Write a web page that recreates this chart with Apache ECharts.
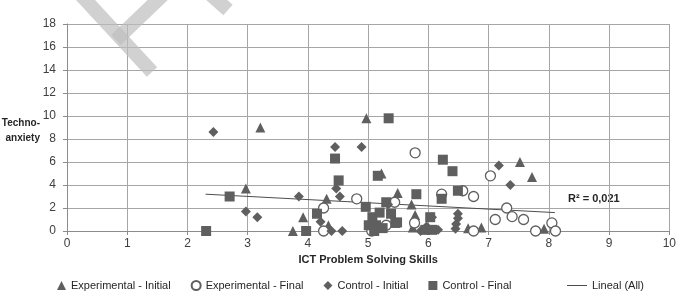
<!DOCTYPE html>
<html>
<head>
    <meta charset="utf-8">
    <title>Techno-anxiety</title>
    <script src="https://cdn.jsdelivr.net/npm/echarts@6/dist/echarts.min.js"></script>
    <style>
        html, body { margin: 0; padding: 0; background: #fff; }
        #main { width: 679px; height: 294px; }
    </style>
</head>
<body>
<div id="main"></div>
<script>
    // values
    var expInitX = [3.21, 4.97, 2.97, 3.75, 3.92, 4.31, 4.34, 5.22, 5.49, 5.72, 5.78, 5.74, 7.52, 7.72, 6.66, 6.88, 7.92, 5.77];
    var expInitY = [9.0, 9.8, 3.7, 0.0, 1.2, 2.8, 0.5, 5.0, 3.3, 2.3, 1.4, 0.3, 6.0, 4.7, 0.25, 0.3, 0.2, 0.8];

    var expFinalX = [5.78, 7.03, 4.81, 4.26, 4.26, 5.06, 5.30, 5.44, 5.77, 6.22, 6.57, 6.75, 6.75, 7.11, 7.30, 7.39, 7.58, 7.78, 8.05, 8.11];
    var expFinalY = [6.8, 4.8, 2.8, 2.0, 0.0, 0.0, 0.5, 2.5, 0.7, 3.2, 3.5, 3.0, 0.0, 1.0, 2.0, 1.25, 1.0, 0.0, 0.7, 0.0];

    var ctrlInitX = [2.43, 4.45, 4.89, 2.97, 3.16, 3.85, 4.47, 4.53, 4.21, 4.39, 4.57, 5.33, 7.17, 7.36, 6.49, 6.49, 6.46, 6.45, 6.06, 5.97, 6.16, 5.87];
    var ctrlInitY = [8.6, 7.3, 7.3, 1.7, 1.2, 3.0, 3.7, 3.0, 0.8, 0.0, 0.0, 2.3, 5.7, 4.0, 1.5, 1.1, 0.6, 0.2, 1.2, 0.4, 0.1, 0.0];

    var ctrlFinalX = [2.31, 2.70, 5.34, 4.45, 4.51, 5.16, 4.15, 3.97, 4.96, 5.07, 5.19, 5.38, 5.30, 5.45, 5.01, 5.13, 5.24, 5.80, 6.24, 6.40, 6.22, 6.49, 5.48, 5.95, 6.06, 6.03, 5.10];
    var ctrlFinalY = [0.0, 3.0, 9.8, 6.3, 4.4, 4.8, 1.5, 0.0, 2.1, 1.2, 1.6, 1.5, 2.5, 0.7, 0.5, 0.5, 0.25, 3.2, 6.2, 5.2, 2.8, 3.5, 0.75, 0.1, 0.1, 1.2, 0.0];

    // linear trend (all), end points
    var trendX = [2.3, 8.1];
    var trendY = [3.2, 1.6];

    var seriesNames = ['Experimental - Initial', 'Experimental - Final', 'Control - Initial', 'Control - Final', 'Lineal (All)'];
    var xTicks = [0, 10, 1];
    var yTicks = [0, 18, 2];

    function pairs(xs, ys) {
        var out = [];
        for (var i = 0; i < xs.length; i++) {
            out.push([xs[i], ys[i]]);
        }
        return out;
    }

    var grey = '#5f5f5f';
    var font = 'Liberation Sans Narrow, Liberation Sans, sans-serif';
    // thin line icon, with tiny corner dots so it keeps a 20x9 box
    var lineIcon = 'path://M0,0L0.01,0L0.01,0.01Z M0,4H20V5H0Z M19.99,9L20,9L20,8.99Z';

    var myChart = echarts.init(document.getElementById('main'));
    var option = {
        animation: false,
        textStyle: { fontFamily: font },
        grid: { left: 67, right: 1, top: 24, bottom: 63 },
        xAxis: {
            type: 'value',
            min: xTicks[0], max: xTicks[1], interval: xTicks[2],
            name: 'ICT Problem Solving Skills',
            nameLocation: 'middle',
            nameGap: 22,
            nameTextStyle: { fontWeight: 'bold', fontSize: 11, color: '#262626', fontFamily: font },
            axisLine: { show: true, lineStyle: { color: '#8c8c8c' } },
            axisTick: { show: true, length: 4, lineStyle: { color: '#8c8c8c' } },
            axisLabel: { fontSize: 12, color: '#404040', margin: 7, fontFamily: font },
            splitLine: { show: true, lineStyle: { color: '#a6a6a6', width: 1 } }
        },
        yAxis: {
            type: 'value',
            min: yTicks[0], max: yTicks[1], interval: yTicks[2],
            axisLine: { show: true, lineStyle: { color: '#8c8c8c' } },
            axisTick: { show: true, length: 4, lineStyle: { color: '#8c8c8c' } },
            axisLabel: { fontSize: 12, color: '#404040', margin: 11, fontFamily: font },
            splitLine: { show: true, lineStyle: { color: '#a6a6a6', width: 1 } }
        },
        legend: [{
            data: seriesNames.slice(0, 4),
            left: 52, top: 275,
            itemWidth: 9, itemHeight: 9, itemGap: 20,
            textStyle: { fontSize: 11, color: '#262626', fontFamily: font }
        }, {
            data: [{ name: seriesNames[4], icon: lineIcon }],
            left: 562, top: 275,
            itemWidth: 20, itemHeight: 9, itemGap: 2, itemStyle: { color: '#4d4d4d' },
            textStyle: { fontSize: 11, color: '#262626', fontFamily: font }
        }],
        graphic: [
            // faint watermark strokes
            { type: 'polyline', z: 100, silent: true, shape: { points: [[80, -6], [152, 72]] },
              style: { stroke: 'rgba(190,190,190,0.7)', lineWidth: 14, fill: null } },
            { type: 'polyline', z: 100, silent: true, shape: { points: [[116, 40], [166, -8]] },
              style: { stroke: 'rgba(190,190,190,0.7)', lineWidth: 14, fill: null } },
            { type: 'polyline', z: 100, silent: true, shape: { points: [[210, -6], [228, 10]] },
              style: { stroke: 'rgba(190,190,190,0.7)', lineWidth: 14, fill: null } },
            { type: 'text', x: 40, y: 116,
              style: { text: 'Techno-\nanxiety', align: 'right', fontSize: 10, fontWeight: 'bold',
                       fill: '#262626', fontFamily: font, lineHeight: 15 } },
            { type: 'text', x: 568, y: 193,
              style: { text: 'R² = 0,021', fontSize: 11, fontWeight: 'bold', fill: '#262626', fontFamily: font } }
        ],
        series: [
            {
                name: seriesNames[0], type: 'scatter', symbol: 'triangle', symbolSize: 10,
                itemStyle: { color: grey, opacity: 1 },
                data: pairs(expInitX, expInitY)
            },
            {
                name: seriesNames[1], type: 'scatter', symbol: 'circle', symbolSize: 10,
                itemStyle: { color: '#ffffff', borderColor: grey, borderWidth: 1.3, opacity: 1 },
                data: pairs(expFinalX, expFinalY)
            },
            {
                name: seriesNames[2], type: 'scatter', symbol: 'diamond', symbolSize: 10,
                itemStyle: { color: grey, opacity: 1 },
                data: pairs(ctrlInitX, ctrlInitY)
            },
            {
                name: seriesNames[3], type: 'scatter', symbol: 'rect', symbolSize: 10,
                itemStyle: { color: grey, opacity: 1 },
                data: pairs(ctrlFinalX, ctrlFinalY)
            },
            {
                name: seriesNames[4], type: 'line', symbol: 'none', z: 1,
                lineStyle: { color: '#4d4d4d', width: 1 },
                itemStyle: { color: '#4d4d4d' },
                data: pairs(trendX, trendY)
            }
        ]
    };
    myChart.setOption(option);
</script>
</body>
</html>
